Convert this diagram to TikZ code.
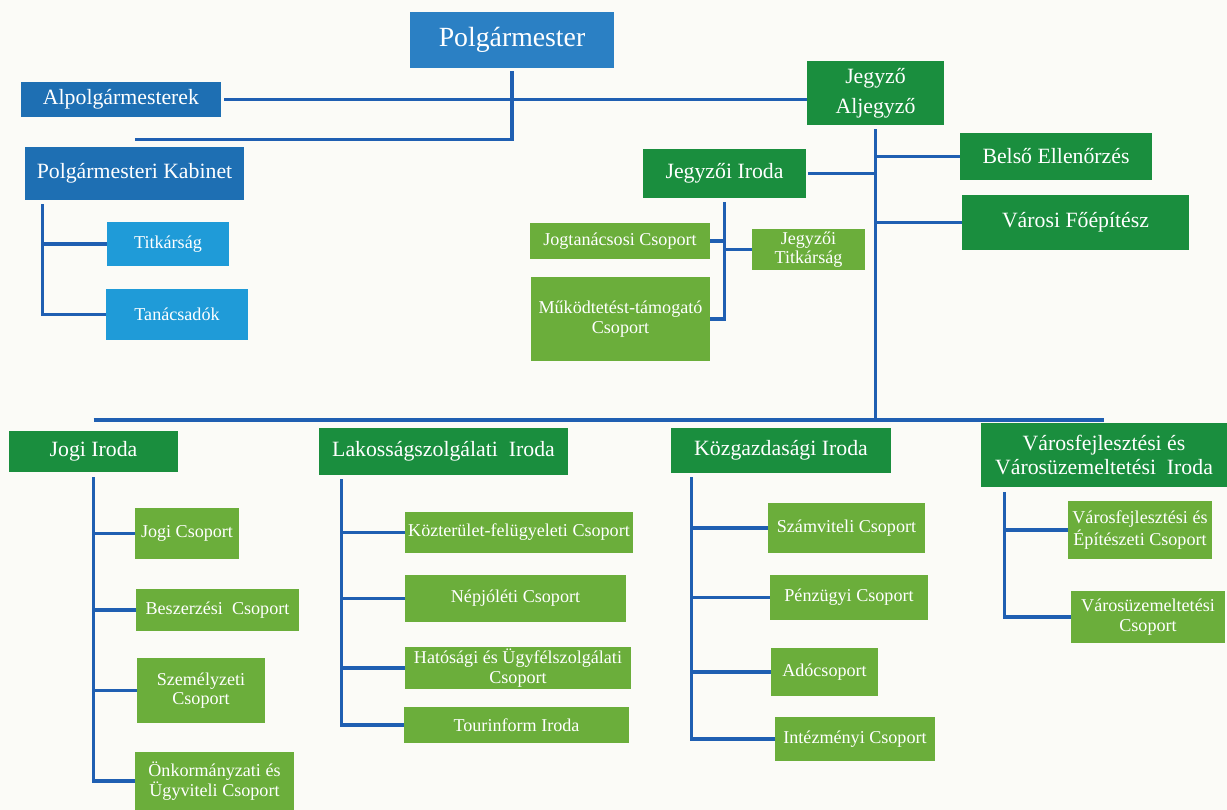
\documentclass[tikz,border=0pt]{standalone}
\usepackage{fontspec}
\setmainfont{Liberation Serif}
\newlength\upx \setlength\upx{0.02cm}
\definecolor{bgcol}{HTML}{FBFBF7}
\definecolor{mayorblue}{HTML}{2B80C4}
\definecolor{deepblue}{HTML}{1E6FB3}
\definecolor{skyblue}{HTML}{1F9BD8}
\definecolor{darkgreen}{HTML}{1A8E3E}
\definecolor{lightgreen}{HTML}{6BAE3B}
\definecolor{linkblue}{HTML}{1F5FB2}
\tikzset{
  dim/.style 2 args={minimum width=#1\upx,minimum height=#2\upx},
  box/.style={inner sep=0pt,text=white,align=center,font=\fontsize{12.4}{13.5}\selectfont},
  mayor/.style={box,fill=mayorblue,font=\fontsize{15.8}{17}\selectfont},
  deputy/.style={box,fill=deepblue},
  cabsub/.style={box,fill=skyblue,font=\fontsize{10.3}{11}\selectfont},
  office/.style={box,fill=darkgreen},
  group/.style={box,fill=lightgreen,font=\fontsize{10.3}{11}\selectfont},
  link/.style={draw=linkblue,line width=1.9pt}
}
\begin{document}
\begin{tikzpicture}[x=0.02cm,y=-0.02cm]
\fill[bgcol] (0,0) rectangle (1227,810);
\useasboundingbox (0,0) rectangle (1227,810);
% vezetes
\node[mayor,dim={204}{56}] (polg) at (512,40) {Polgármester};
\node[deputy,dim={200}{35}] (alpolg) at (121,99.5) {Alpolgármesterek};
\node[deputy,dim={219}{53}] (kabinet) at (134.5,173.5) {Polgármesteri Kabinet};
\node[cabsub,dim={122}{44}] (titkar) at (168,244) {Titkárság};
\node[cabsub,dim={142}{51}] (tanacs) at (177,314.5) {Tanácsadók};
\node[office,dim={137}{64},font=\fontsize{12.4}{17}\selectfont] (jegyzo) at (875.5,93) {Jegyző\\Aljegyző};
\node[office,dim={192}{47}] (belso) at (1056,156.5) {Belső Ellenőrzés};
\node[office,dim={227}{55}] (foepitesz) at (1075.5,222.5) {Városi Főépítész};
\node[office,dim={163}{49}] (jiroda) at (724.5,173.5) {Jegyzői Iroda};
\node[group,dim={180}{36}] (jogtan) at (620,241) {Jogtanácsosi Csoport};
\node[group,dim={113}{41}] (jtitkar) at (808.5,249.5) {Jegyzői\\Titkárság};
\node[group,dim={179}{84}] (mukod) at (620.5,319) {Működtetést-támogató\\Csoport};
% irodak
\node[office,dim={169}{41}] (jogi) at (93.5,451.5) {Jogi Iroda};
\node[group,dim={104}{51}] (jogics) at (187,533.5) {Jogi Csoport};
\node[group,dim={163}{42}] (beszerz) at (217.5,610) {Beszerzési\ \ Csoport};
\node[group,dim={128}{65}] (szemely) at (201,690.5) {Személyzeti\\Csoport};
\node[group,dim={159}{58}] (onkorm) at (214.5,781) {Önkormányzati és\\Ügyviteli Csoport};
\node[office,dim={249}{47}] (lakos) at (443.5,451.5) {Lakosságszolgálati\ \ Iroda};
\node[group,dim={228}{41}] (kozter) at (519,532.5) {Közterület-felügyeleti Csoport};
\node[group,dim={221}{47}] (nepjol) at (515.5,598.5) {Népjóléti Csoport};
\node[group,dim={226}{42}] (hatos) at (518,668) {Hatósági és Ügyfélszolgálati\\Csoport};
\node[group,dim={225}{36}] (tourin) at (516.5,725) {Tourinform Iroda};
\node[office,dim={220}{45}] (kozgazd) at (781,450.5) {Közgazdasági Iroda};
\node[group,dim={157}{50}] (szamv) at (846.5,528) {Számviteli Csoport};
\node[group,dim={158}{45}] (penz) at (849,597.5) {Pénzügyi Csoport};
\node[group,dim={107}{48}] (ado) at (824.5,672) {Adócsoport};
\node[group,dim={160}{44}] (intez) at (855,739) {Intézményi Csoport};
\node[office,dim={246}{64}] (varosf) at (1104,455) {Városfejlesztési és\\Városüzemeltetési\ \ Iroda};
\node[group,dim={144}{58}] (varosfcs) at (1140,530) {Városfejlesztési és\\Építészeti Csoport};
\node[group,dim={154}{52}] (varosuz) at (1148,617) {Városüzemeltetési\\Csoport};
% vonalak
\draw[link] ([yshift=-3\upx]polg.south) |- ([yshift=7\upx]kabinet.north);
\draw[link] ([xshift=3\upx]alpolg.east) -- (alpolg.east -| jegyzo.west);
\coordinate (kspine) at ([xshift=18\upx,yshift=-4\upx]kabinet.south west);
\draw[link] (kspine) |- (tanacs.west);
\draw[link] (titkar.west) -- (titkar.west -| kspine);
\coordinate (bus) at (0,420);
\draw[link] ([yshift=-4\upx]jegyzo.south) -- (jegyzo.south |- bus);
\draw[link] (jogi.north |- bus) -- (varosf.north |- bus);
\foreach \n in {belso,foepitesz}
  \draw[link] (\n.west) -- (\n.west -| jegyzo.south);
\draw[link] ([xshift=2\upx]jiroda.east) -- (jiroda.east -| jegyzo.south);
\draw[link] ([yshift=-4\upx]jiroda.south) |- (mukod.east);
\draw[link] (jogtan.east) -- (jogtan.east -| jiroda.south);
\draw[link] (jtitkar.west) -- (jtitkar.west -| jiroda.south);
\coordinate (jspine) at ([yshift=-5\upx]jogi.south);
\draw[link] (jspine) |- (onkorm.west);
\foreach \n in {jogics,beszerz,szemely}
  \draw[link] (\n.west) -- (\n.west -| jspine);
\coordinate (lspine) at ([xshift=23\upx,yshift=-4\upx]lakos.south west);
\draw[link] (lspine) |- (tourin.west);
\foreach \n in {kozter,nepjol,hatos}
  \draw[link] (\n.west) -- (\n.west -| lspine);
\coordinate (gspine) at ([xshift=21\upx,yshift=-4\upx]kozgazd.south west);
\draw[link] (gspine) |- (intez.west);
\foreach \n in {szamv,penz,ado}
  \draw[link] (\n.west) -- (\n.west -| gspine);
\coordinate (vspine) at ([xshift=24\upx,yshift=-5\upx]varosf.south west);
\draw[link] (vspine) |- (varosuz.west);
\draw[link] (varosfcs.west) -- (varosfcs.west -| vspine);
\end{tikzpicture}
\end{document}
